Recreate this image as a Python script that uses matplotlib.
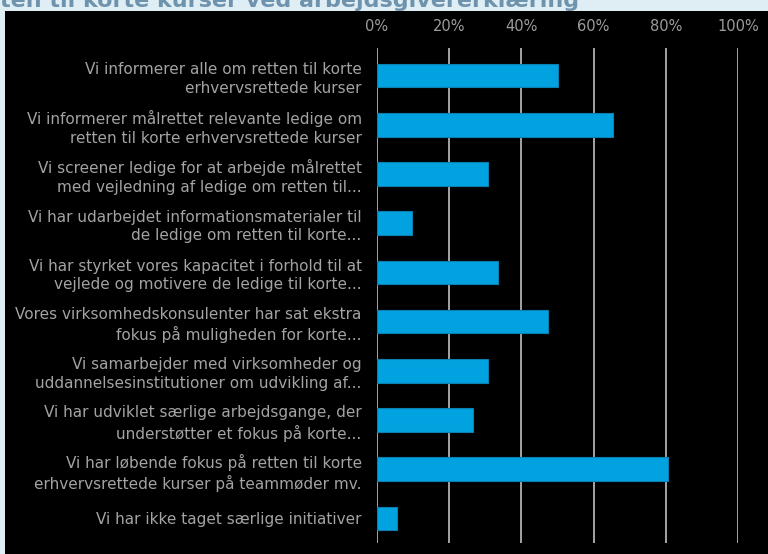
import numpy as np
import matplotlib.pyplot as plt
from matplotlib.patches import Rectangle

labels = [
    "Vi informerer alle om retten til korte\nerhvervsrettede kurser",
    "Vi informerer målrettet relevante ledige om\nretten til korte erhvervsrettede kurser",
    "Vi screener ledige for at arbejde målrettet\nmed vejledning af ledige om retten til...",
    "Vi har udarbejdet informationsmaterialer til\nde ledige om retten til korte...",
    "Vi har styrket vores kapacitet i forhold til at\nvejlede og motivere de ledige til korte...",
    "Vores virksomhedskonsulenter har sat ekstra\nfokus på muligheden for korte...",
    "Vi samarbejder med virksomheder og\nuddannelsesinstitutioner om udvikling af...",
    "Vi har udviklet særlige arbejdsgange, der\nunderstøtter et fokus på korte...",
    "Vi har løbende fokus på retten til korte\nerhvervsrettede kurser på teammøder mv.",
    "Vi har ikke taget særlige initiativer",
]
values = [50.0, 65.4, 30.7, 9.8, 33.4, 47.4, 30.7, 26.5, 80.7, 5.5]
xticks = [0, 20, 40, 60, 80, 100]
title = "ten til korte kurser ved arbejdsgivererklæring"

fig = plt.figure(figsize=(7.68, 5.54), dpi=100, facecolor="#dfeef5")
# black panel behind the chart
fig.patches.append(Rectangle((5 / 768, 0), 1, (554 - 11) / 554,
                             transform=fig.transFigure, facecolor="black",
                             edgecolor="none", zorder=-5))
fig.text(0.0, (554 - 7) / 554, title, fontsize=16, fontweight="bold",
         color="#6f93ad", ha="left", va="baseline")

ax = fig.add_axes([377 / 768, 11 / 554, (738 - 377) / 768, (543 - 48) / 554])
ax.set_facecolor("black")
y = np.arange(len(values))
ax.barh(y, values, height=0.48, color="#00a3e0", edgecolor="#0a7fb0",
        linewidth=0.8, zorder=3)
ax.set_xlim(0, 100)
ax.set_ylim(9.5, -0.56)
ax.set_xticks(xticks)
ax.set_xticklabels([f"{t}%" for t in xticks])
ax.xaxis.tick_top()
ax.tick_params(axis="x", length=0, pad=10, labelsize=10.5, labelcolor="#9c9c9c")
ax.set_yticks(y)
ax.set_yticklabels(labels, linespacing=1.3)
ax.tick_params(axis="y", length=0, pad=11, labelsize=11, labelcolor="#a3a3a3")
ax.grid(axis="x", color="#c0c0c0", linewidth=1.2, zorder=1)
for s in ax.spines.values():
    s.set_visible(False)

fig.savefig("out.png", dpi=100, facecolor=fig.get_facecolor())
